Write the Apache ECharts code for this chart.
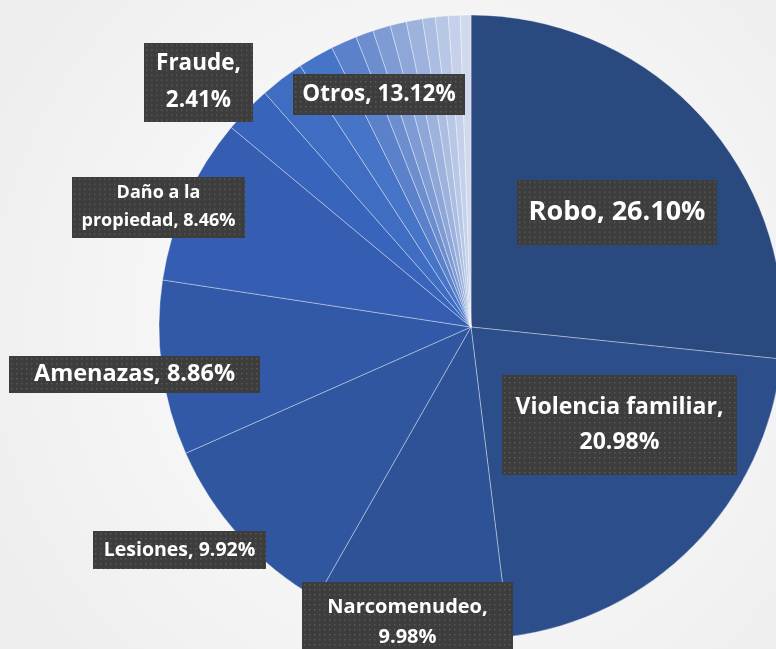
<!DOCTYPE html>
<html>
<head>
<meta charset="utf-8">
<script src="https://cdn.jsdelivr.net/npm/echarts@6/dist/echarts.min.js"></script>
<style>
html,body{margin:0;padding:0;}
#chart{width:776px;height:649px;}
</style>
</head>
<body>
<div id="chart"></div>
<script>
// ---- data ----
const categories = ['Robo', 'Violencia familiar', 'Narcomenudeo', 'Lesiones', 'Amenazas', 'Daño a la\npropiedad', 'Fraude'];
const values = [26.10, 20.98, 9.98, 9.92, 8.86, 8.46, 2.41];
const otrosName = 'Otros';
const otrosTotal = 13.12;
// small "Otros" slices, from Fraude towards the top
const otrosValues = [2.23, 1.82, 1.33, 0.90, 0.90, 0.82, 0.82, 0.65, 0.65, 0.60, 0.54];

// ---- styles / layout ----
const mainColors = ['#2a4a7f', '#2c4e8b', '#2e5296', '#30569f', '#3259a8', '#355eb2', '#3964bb'];
const otrosColors = ['#3f6dc2', '#4674c6', '#5b81ca', '#6c8ecf', '#7e9bd3', '#8ea7d8', '#9db2dc', '#abbde1', '#b8c7e5', '#c5d0ea', '#d1d9ee'];
const separators = [', ', ',\n', ',\n', ', ', ', ', ', ', ',\n'];
// label boxes: center x, center y, box width, box height, font size, line height
const labelBoxes = [
  {x: 617, y: 212, w: 200, h: 65, fs: 27, lh: 34},
  {x: 619.5, y: 425, w: 235, h: 100, fs: 23, lh: 35},
  {x: 407.5, y: 622, w: 211, h: 80, fs: 20, lh: 30},
  {x: 179.5, y: 550, w: 173, h: 38, fs: 19.5, lh: 26},
  {x: 134.5, y: 374.5, w: 251, h: 37, fs: 23.5, lh: 30},
  {x: 158.5, y: 207, w: 173, h: 61, fs: 18, lh: 28},
  {x: 198.5, y: 82, w: 109, h: 79, fs: 22.5, lh: 37}
];
const otrosBox = {x: 379, y: 94.5, w: 172, h: 41, fs: 22.5, lh: 30};
const otrosLabelIndex = 4;

function dots(w, h) {
  const c = document.createElement('canvas');
  c.width = w; c.height = h;
  const g = c.getContext('2d');
  g.fillStyle = '#3d3d3d';
  g.fillRect(0, 0, w, h);
  g.fillStyle = '#595959';
  for (let yy = 2; yy < h; yy += 5) {
    for (let xx = 2; xx < w; xx += 5) {
      g.fillRect(xx, yy, 1.5, 1.5);
    }
  }
  return c;
}

function labelStyle(box, text) {
  const lines = text.split('\n').length;
  const lh = box.lh;
  const pv = Math.max(0, (box.h - lines * lh) / 2);
  return {
    show: true,
    formatter: text,
    fontFamily: '"Open Sans", sans-serif',
    fontWeight: 'bold',
    fontSize: box.fs,
    lineHeight: lh,
    color: '#ffffff',
    align: 'center',
    width: box.w,
    padding: [pv, 0, pv, 0],
    backgroundColor: {image: dots(box.w, Math.round(box.h))},
    shadowColor: 'rgba(0,0,0,0.45)',
    shadowBlur: 6,
    shadowOffsetX: 3,
    shadowOffsetY: 3
  };
}

const data = [];
const positions = [];
categories.forEach((name, i) => {
  const text = name + separators[i] + values[i].toFixed(2) + '%';
  data.push({
    name: name,
    value: values[i],
    itemStyle: {color: mainColors[i]},
    label: labelStyle(labelBoxes[i], text)
  });
  positions.push(labelBoxes[i]);
});
otrosValues.forEach((v, j) => {
  const item = {
    name: otrosName + ' ' + (j + 1),
    value: v,
    itemStyle: {color: otrosColors[j]},
    label: {show: false}
  };
  if (j === otrosLabelIndex) {
    item.label = labelStyle(otrosBox, otrosName + ', ' + otrosTotal.toFixed(2) + '%');
  }
  data.push(item);
  positions.push(j === otrosLabelIndex ? otrosBox : null);
});

const chart = echarts.init(document.getElementById('chart'), null, {renderer: 'canvas'});
chart.setOption({
  animation: false,
  backgroundColor: {
    type: 'radial', x: 0.55, y: 0.5, r: 0.75,
    colorStops: [{offset: 0, color: '#ffffff'}, {offset: 1, color: '#eeeeee'}]
  },
  series: [{
    type: 'pie',
    center: [471, 327],
    radius: 312,
    startAngle: 90,
    clockwise: true,
    avoidLabelOverlap: false,
    silent: true,
    label: {position: 'outside'},
    labelLine: {show: false},
    itemStyle: {borderColor: 'rgba(255,255,255,0.45)', borderWidth: 0.8},
    labelLayout: function (params) {
      const p = positions[params.dataIndex];
      if (!p) return {};
      return {x: p.x, y: p.y, align: 'center', verticalAlign: 'middle'};
    },
    data: data
  }]
});
</script>
</body>
</html>
